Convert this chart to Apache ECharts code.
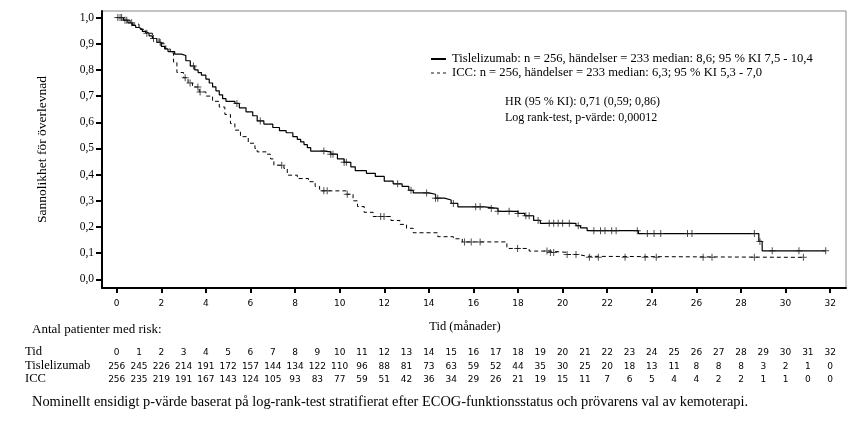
<!DOCTYPE html>
<html><head><meta charset="utf-8">
<script src="https://cdn.jsdelivr.net/npm/echarts@6/dist/echarts.min.js"></script>
<style>html,body{margin:0;padding:0;background:#fff}#c{width:865px;height:422px}</style>
</head><body><div id="c"></div>
<script>
// Kaplan-Meier step points (months, survival probability)
const tisTime = [0,0.3,0.5,0.7,0.85,1.0,1.15,1.3,1.45,1.6,1.8,2.0,2.15,2.3,2.6,2.9,3.1,3.3,3.5,3.65,3.8,4.0,4.15,4.3,4.45,4.6,4.75,4.9,5.3,5.5,5.8,6.1,6.3,6.6,7.0,7.3,7.6,7.9,8.1,8.25,8.4,8.55,8.7,9.3,9.6,9.9,10.2,10.5,10.7,11.2,11.6,12.0,12.4,12.8,13.1,13.3,14.0,14.3,14.7,15.0,15.3,16.5,17.1,18.0,18.3,18.7,19.0,20.6,20.8,21.1,23.4,28.8,28.95,31.8];
const tisSurv = [1.0,0.99,0.98,0.97,0.962,0.955,0.947,0.94,0.93,0.92,0.905,0.89,0.88,0.87,0.86,0.855,0.835,0.815,0.80,0.79,0.78,0.765,0.75,0.735,0.72,0.705,0.69,0.68,0.672,0.655,0.64,0.625,0.605,0.593,0.58,0.568,0.56,0.545,0.535,0.525,0.515,0.503,0.49,0.487,0.478,0.46,0.447,0.43,0.415,0.405,0.393,0.375,0.365,0.355,0.34,0.33,0.325,0.31,0.303,0.29,0.277,0.271,0.26,0.252,0.243,0.225,0.214,0.205,0.197,0.186,0.175,0.145,0.109,0.109];
const iccTime = [0,0.3,0.6,1.0,1.3,1.6,1.9,2.2,2.4,2.55,2.7,3.0,3.2,3.4,3.7,4.0,4.3,4.6,4.85,5.1,5.3,5.55,5.9,6.2,6.3,6.7,6.9,7.05,7.5,7.65,8.1,8.6,8.9,9.1,10.3,10.6,10.8,11.1,11.5,12.3,12.7,13.0,13.3,14.4,15.1,15.5,17.5,18.5,19.4,20.2,20.7,21.1,30.8];
const iccSurv = [1.0,0.99,0.975,0.955,0.94,0.92,0.9,0.88,0.865,0.83,0.79,0.77,0.75,0.735,0.716,0.70,0.68,0.658,0.63,0.595,0.57,0.545,0.52,0.50,0.487,0.478,0.46,0.436,0.424,0.398,0.385,0.373,0.355,0.338,0.325,0.30,0.278,0.256,0.24,0.225,0.21,0.195,0.178,0.163,0.155,0.143,0.118,0.108,0.103,0.095,0.088,0.084,0.084];
// censoring times
const tisCensor = [0.05,0.22,0.37,0.67,1.35,1.65,1.95,3.44,5.39,6.44,9.29,9.6,9.7,10.2,10.3,12.6,13.2,13.9,14.3,14.4,15.1,16.1,16.3,16.8,17.1,17.6,18.0,18.35,18.5,18.9,19.4,19.6,19.8,20.0,20.3,20.7,21.4,21.7,21.9,22.2,22.4,23.35,23.8,24.1,24.4,25.6,25.8,28.6,28.85,29.4,30.6,31.8];
const iccCensor = [0.15,0.45,3.07,3.29,3.64,3.74,7.4,9.29,9.44,10.34,11.84,11.99,15.6,15.9,16.3,17.98,19.3,19.45,19.6,20.2,20.6,21.2,21.6,22.8,23.7,24.2,26.3,26.7,28.6,30.8];
// numbers at risk
const riskTime = [0,1,2,3,4,5,6,7,8,9,10,11,12,13,14,15,16,17,18,19,20,21,22,23,24,25,26,27,28,29,30,31,32];
const tisRisk = [256,245,226,214,191,172,157,144,134,122,110,96,88,81,73,63,59,52,44,35,30,25,20,18,13,11,8,8,8,3,2,1,0];
const iccRisk = [256,235,219,191,167,143,124,105,93,83,77,59,51,42,36,34,29,26,21,19,15,11,7,6,5,4,4,2,2,1,1,0,0];
const xTicks = [0,2,4,6,8,10,12,14,16,18,20,22,24,26,28,30,32];
const yTicks = [0,0.1,0.2,0.3,0.4,0.5,0.6,0.7,0.8,0.9,1.0];

const serif = '"Liberation Serif", "Times New Roman", serif';
const sans = '"DejaVu Sans", sans-serif';

function survAt(times, surv, t){
  let v = surv[0];
  for (let i=0;i<times.length;i++){ if (times[i] <= t) v = surv[i]; }
  return v;
}
const zip = (a,b) => a.map((x,i)=>[x,b[i]]);
const plus = 'path://M0,3h7v1h-7zM3,0h1v7h-1z';

const X_MIN = -0.66, X_MAX = 32.71;
function riskAxis(values, offset){
  return {
    type:'value', gridIndex:0, position:'bottom', min:X_MIN, max:X_MAX, offset:offset,
    axisLine:{show:false}, axisTick:{show:false}, splitLine:{show:false},
    axisLabel:{show:true, customValues:riskTime, margin:0, fontFamily:sans, fontSize:9, color:'#000',
      formatter:(v)=>{ const i = riskTime.indexOf(Math.round(v)); return i>=0 ? String(values[i]) : ''; }}
  };
}

const chart = echarts.init(document.getElementById('c'), null, {renderer:'canvas'});
chart.setOption({
  animation:false,
  backgroundColor:'#fff',
  grid:{left:102, top:11, right:19, bottom:134, show:true, borderColor:'#888', borderWidth:1, containLabel:false},
  xAxis:[
    {type:'value', min:X_MIN, max:X_MAX, position:'bottom',
     name:'Tid (månader)', nameLocation:'middle', nameGap:32,
     nameTextStyle:{fontFamily:serif, fontSize:12.5, color:'#000', padding:[0,18,0,0]},
     axisLine:{show:true, onZero:false, lineStyle:{color:'#000', width:2}},
     axisTick:{show:true, customValues:xTicks, length:5, lineStyle:{color:'#000', width:2}},
     axisLabel:{show:true, customValues:xTicks, margin:11, fontFamily:sans, fontSize:9, color:'#000'},
     splitLine:{show:false}},
    riskAxis(riskTime, 60),
    riskAxis(tisRisk, 74),
    riskAxis(iccRisk, 87)
  ],
  yAxis:{type:'value', min:-0.033, max:1.025,
    name:'Sannolikhet för överlevnad', nameLocation:'middle', nameGap:53,
    nameTextStyle:{fontFamily:serif, fontSize:13.5, color:'#000'},
    axisLine:{show:true, onZero:false, lineStyle:{color:'#000', width:2}},
    axisTick:{show:true, customValues:yTicks, length:6, lineStyle:{color:'#000', width:2}},
    axisLabel:{show:true, customValues:yTicks, margin:8, fontFamily:serif, fontSize:11.5, color:'#000',
      formatter:(v)=>v.toFixed(1).replace('.',',')},
    splitLine:{show:false}},
  series:[
    {name:'Tislelizumab', type:'line', step:'end', data:zip(tisTime,tisSurv), showSymbol:false, symbol:'none',
     lineStyle:{color:'#000', width:1.2}, z:3},
    {name:'ICC', type:'line', step:'end', data:zip(iccTime,iccSurv), showSymbol:false, symbol:'none',
     lineStyle:{color:'#000', width:1, type:[4,3]}, z:3},
    {name:'Tislelizumab censur', type:'scatter', data:tisCensor.map(t=>[t, survAt(tisTime,tisSurv,t)]),
     symbol:plus, symbolSize:7, itemStyle:{color:'#222'}, z:4},
    {name:'ICC censur', type:'scatter', data:iccCensor.map(t=>[t, survAt(iccTime,iccSurv,t)]),
     symbol:plus, symbolSize:7, itemStyle:{color:'#222'}, z:4}
  ],
  graphic:[
    {type:'line', shape:{x1:431,y1:59,x2:446,y2:59}, style:{stroke:'#000', lineWidth:2}},
    {type:'text', left:452, top:52, style:{text:'Tislelizumab: n = 256, händelser = 233 median: 8,6; 95 % KI 7,5 - 10,4', font:'12.6px '+serif, fill:'#000'}},
    {type:'line', shape:{x1:431,y1:73,x2:448,y2:73}, style:{stroke:'#666', lineWidth:1.5, lineDash:[3,3]}},
    {type:'text', left:452, top:66, style:{text:'ICC: n = 256, händelser = 233 median: 6,3; 95 % KI 5,3 - 7,0', font:'12.6px '+serif, fill:'#000'}},
    {type:'text', left:505, top:96, style:{text:'HR (95 % KI): 0,71 (0,59; 0,86)', font:'12px '+serif, fill:'#000'}},
    {type:'text', left:505, top:112, style:{text:'Log rank-test, p-värde: 0,00012', font:'12px '+serif, fill:'#000'}},
    {type:'text', left:32, top:323, style:{text:'Antal patienter med risk:', font:'13px '+serif, fill:'#000'}},
    {type:'text', left:25, top:345, style:{text:'Tid', font:'12.6px '+serif, fill:'#000'}},
    {type:'text', left:25, top:359, style:{text:'Tislelizumab', font:'12.6px '+serif, fill:'#000'}},
    {type:'text', left:25, top:372, style:{text:'ICC', font:'12.6px '+serif, fill:'#000'}},
    {type:'text', left:32, top:395, style:{text:'Nominellt ensidigt p-värde baserat på log-rank-test stratifierat efter ECOG-funktionsstatus och prövarens val av kemoterapi.', font:'14.4px '+serif, fill:'#000'}}
  ]
});
</script></body></html>
